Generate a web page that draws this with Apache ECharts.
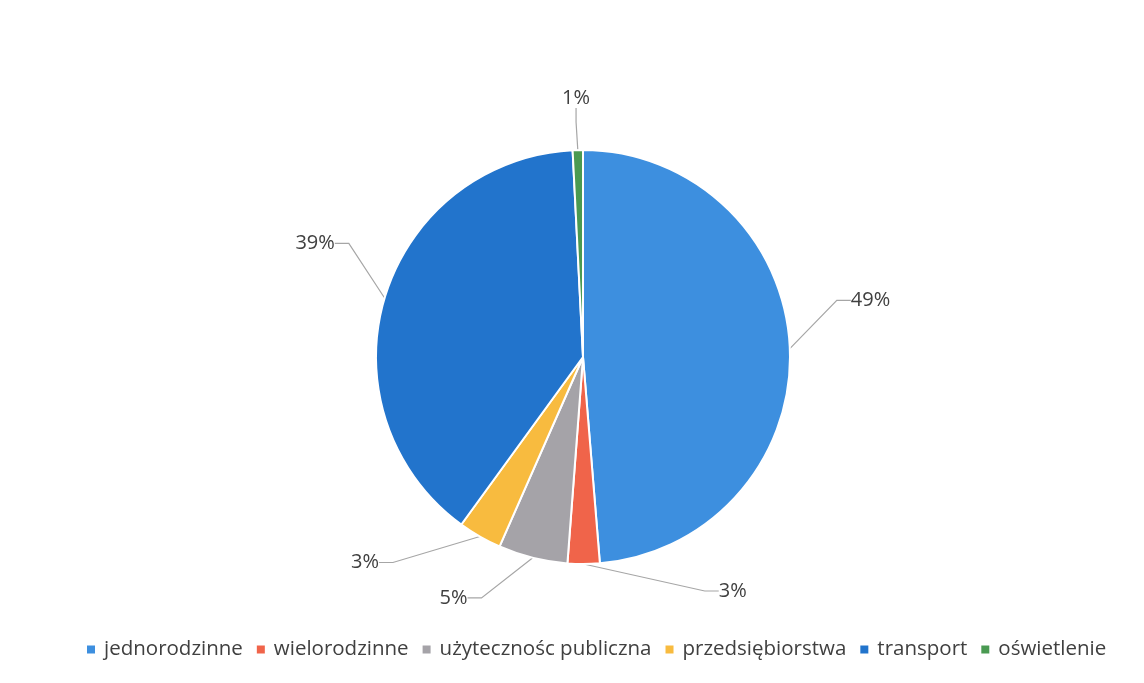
<!DOCTYPE html>
<html>
<head>
<meta charset="utf-8">
<script src="https://cdn.jsdelivr.net/npm/echarts@6/dist/echarts.min.js"></script>
<style>
  html, body { margin: 0; padding: 0; background: #fff; }
  #box { width: 1144px; height: 683px; }
</style>
</head>
<body>
<div id="box"></div>
<script>
const categories = ['jednorodzinne', 'wielorodzinne', 'użytecznośc publiczna', 'przedsiębiorstwa', 'transport', 'oświetlenie'];
const shares = [48.7, 2.5, 5.4, 3.4, 39.2, 0.8];
const colors = ['#3d8fdf', '#f0644a', '#a5a3a8', '#f8bb3f', '#2274cc', '#4a9a52'];
// label nudges, Excel-style placement
const labelShift = [[12, -47], [116, -3], [-39, 11], [-67, 0], [-2, -46], [32, -22]];

const myChart = echarts.init(document.getElementById('box'));
myChart.setOption({
  animation: false,
  textStyle: { fontFamily: '"Open Sans", "Noto Sans", sans-serif' },
  legend: {
    bottom: 18,
    left: 80,
    itemWidth: 10,
    itemHeight: 10,
    itemGap: 12,
    icon: 'rect',
    textStyle: { fontSize: 20.5, color: '#404040', padding: [0, 0, 0, 3] },
    data: categories
  },
  series: [{
    type: 'pie',
    center: [583, 357],
    radius: 207,
    startAngle: 90,
    clockwise: true,
    itemStyle: { borderColor: '#fff', borderWidth: 2 },
    label: {
      fontSize: 20,
      color: '#404040',
      formatter: p => Math.round(p.value) + '%'
    },
    labelLine: {
      length: 30,
      length2: 14,
      lineStyle: { color: '#a6a6a6', width: 1.2 }
    },
    labelLayout: p => ({
      x: p.labelRect.x + labelShift[p.dataIndex][0],
      y: p.labelRect.y + labelShift[p.dataIndex][1],
      align: 'left',
      verticalAlign: 'top'
    }),
    data: categories.map((name, i) => ({
      name,
      value: shares[i],
      itemStyle: { color: colors[i] }
    }))
  }]
});
</script>
</body>
</html>
